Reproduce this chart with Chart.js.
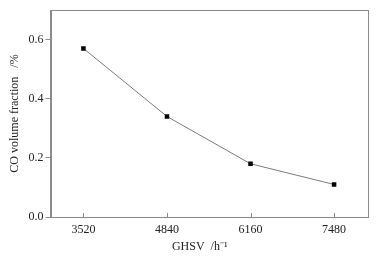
<!DOCTYPE html>
<html><head><meta charset="utf-8">
<script src="https://cdn.jsdelivr.net/npm/chart.js@4/dist/chart.umd.min.js"></script>
<style>html,body{margin:0;padding:0;background:#fff}#w{width:385px;height:258px}</style>
</head><body><div id="w"><canvas id="c"></canvas></div>
<script>
const ghsv = [3520, 4840, 6160, 7480];
const coFraction = [0.57, 0.34, 0.18, 0.11];
const xTitle = 'GHSV  /h\u207B\u00B9' + '\u00A0'.repeat(6);
const yTitle = 'CO volume fraction   /%';

const axisColor = '#8a8a8a';
const textColor = '#222';
const font = {family: '"Liberation Serif", "Times New Roman", serif', size: 12};

const boxPlugin = {
  id: 'box',
  afterDraw(chart) {
    const {ctx, chartArea: a, scales} = chart;
    ctx.save();
    ctx.strokeStyle = axisColor;
    ctx.lineWidth = 1;
    ctx.strokeRect(Math.round(a.left) + 0.5, Math.round(a.top) + 0.5, Math.round(a.right - a.left), Math.round(a.bottom - a.top));
    ctx.beginPath();
    ghsv.forEach(v => {
      const x = Math.round(scales.x.getPixelForValue(v)) + 0.5;
      ctx.moveTo(x, a.bottom);
      ctx.lineTo(x, a.bottom - 4);
    });
    ctx.stroke();
    ctx.restore();
  }
};

new Chart(document.getElementById('c'), {
  type: 'line',
  data: {
    datasets: [{
      data: ghsv.map((x, i) => ({x, y: coFraction[i]})),
      borderColor: '#7a7a7a',
      borderWidth: 1,
      pointStyle: 'rect',
      pointRadius: 3.2,
      pointBackgroundColor: '#000',
      pointBorderColor: '#000',
      pointBorderWidth: 0,
      tension: 0
    }]
  },
  options: {
    responsive: true,
    maintainAspectRatio: false,
    animation: false,
    layout: {padding: {top: 10, right: 18, left: 0, bottom: 0}},
    plugins: {legend: {display: false}, tooltip: {enabled: false}},
    scales: {
      x: {
        type: 'linear', min: 3000, max: 8000,
        afterBuildTicks: s => { s.ticks = ghsv.map(v => ({value: v})); },
        afterFit: s => { s.height = 41; },
        grid: {drawOnChartArea: false, drawTicks: false, color: axisColor},
        border: {color: axisColor},
        ticks: {color: textColor, font, padding: 6, maxRotation: 0, callback: v => String(v)},
        title: {display: true, text: xTitle, color: textColor, font, padding: {top: 0}}
      },
      y: {
        min: 0, max: 0.7,
        afterBuildTicks: s => { s.ticks = [0, 0.2, 0.4, 0.6].map(v => ({value: v})); },
        afterFit: s => { s.width = 50.5; },
        grid: {drawOnChartArea: false, drawTicks: true, tickLength: 5, color: axisColor},
        border: {color: axisColor},
        ticks: {color: textColor, font, padding: 2, callback: v => Number(v).toFixed(1)},
        title: {display: true, text: yTitle, color: textColor, font, padding: {top: 8, bottom: 0}}
      }
    }
  },
  plugins: [boxPlugin]
});
</script></body></html>
